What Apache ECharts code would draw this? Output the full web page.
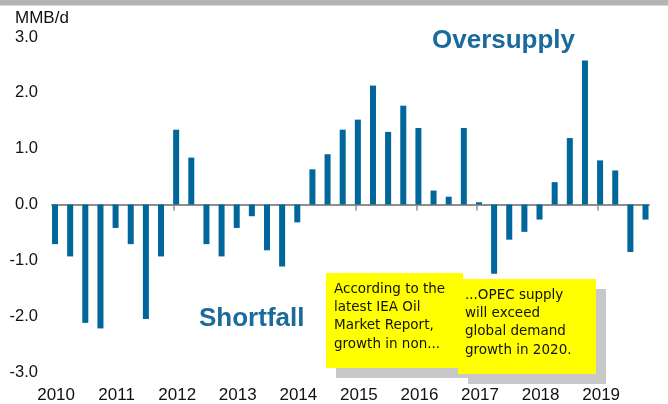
<!DOCTYPE html>
<html>
<head>
<meta charset="utf-8">
<script src="https://cdn.jsdelivr.net/npm/echarts@6/dist/echarts.min.js"></script>
<style>
html,body{margin:0;padding:0;background:#fff;}
#chart{width:668px;height:404px;}
</style>
</head>
<body>
<div id="chart"></div>
<script>
// Quarterly categories 2010Q1 .. 2019Q4
var years = ['2010','2011','2012','2013','2014','2015','2016','2017','2018','2019'];
var quarters = ['Q1','Q2','Q3','Q4'];
// Supply minus demand balance, MMB/d
var balance = [
  -0.71, -0.93, -2.12, -2.22,   // 2010
  -0.42, -0.71, -2.05, -0.93,   // 2011
   1.34,  0.84, -0.71, -0.93,   // 2012
  -0.42, -0.21, -0.82, -1.11,   // 2013
  -0.32,  0.63,  0.90,  1.34,   // 2014
   1.52,  2.13,  1.30,  1.77,   // 2015
   1.37,  0.25,  0.14,  1.37,   // 2016
   0.04, -1.24, -0.63, -0.49,   // 2017
  -0.27,  0.40,  1.19,  2.58,   // 2018
   0.79,  0.61, -0.85, -0.27    // 2019
];
var yTicks = [-3, -2, -1, 0, 1, 2, 3];
var unitLabel = 'MMB/d';
var note1 = ['According to the', 'latest IEA Oil', 'Market Report,', 'growth in non...'];
var note2 = ['...OPEC supply', 'will exceed', 'global demand', 'growth in 2020.'];

var barData = balance.map(function (v, i) { return [i, v]; });
var tickPos = years.map(function (y, i) { return i * quarters.length - 0.13; });
var labelPos = years.map(function (y, i) { return i * quarters.length + 0.07; });

var axisGray = '#8e8e8e';
var blue = '#00669b';
var textBlue = '#1a6a9c';
var sans = 'Liberation Sans, Arial, sans-serif';
var noteFont = '13.5px "Comic Sans MS", "DejaVu Sans", sans-serif';

var chart = echarts.init(document.getElementById('chart'), null, {renderer: 'canvas'});
chart.setOption({
  animation: false,
  backgroundColor: '#ffffff',
  grid: {left: 52, right: 19, top: 37, bottom: 32},
  xAxis: [{
    type: 'value',
    min: -0.2, max: 39.23,
    position: 'bottom',
    axisLine: {show: true, onZero: true, lineStyle: {color: axisGray, width: 2}},
    axisTick: {show: true, customValues: tickPos, length: 6, lineStyle: {color: axisGray, width: 1.5}},
    axisLabel: {show: false},
    splitLine: {show: false}
  }, {
    type: 'value',
    min: -0.2, max: 39.23,
    position: 'bottom',
    axisLine: {show: false, onZero: false},
    axisTick: {show: false},
    axisLabel: {
      show: true, customValues: labelPos, margin: 15,
      fontFamily: sans, fontSize: 17, color: '#111',
      formatter: function (v) { return years[Math.round((v - 0.07) / quarters.length)]; }
    },
    splitLine: {show: false}
  }],
  yAxis: {
    type: 'value',
    min: yTicks[0], max: yTicks[yTicks.length - 1], interval: 1,
    axisLine: {show: false},
    axisTick: {show: false},
    splitLine: {show: false},
    axisLabel: {
      margin: 14, fontFamily: sans, fontSize: 16.5, color: '#111',
      formatter: function (v) { return v.toFixed(1); }
    }
  },
  series: [{
    type: 'bar',
    xAxisIndex: 0,
    data: barData,
    barWidth: 6,
    itemStyle: {color: blue}
  }],
  graphic: [
    {type: 'rect', left: 0, top: 0, z: 10, shape: {width: 668, height: 5.5}, style: {fill: '#b4b4b4'}},
    {type: 'text', left: 15, top: 10, z: 10, style: {text: unitLabel, font: '17px ' + sans, fill: '#111'}},
    {type: 'text', left: 432, top: 28, z: 10, style: {text: 'Oversupply', font: 'bold 26px ' + sans, fill: textBlue}},
    {type: 'text', left: 199, top: 306, z: 10, style: {text: 'Shortfall', font: 'bold 26px ' + sans, fill: textBlue}},
    {type: 'rect', left: 336, top: 283, z: 10, shape: {width: 137, height: 95}, style: {fill: '#c8c8c8'}},
    {type: 'rect', left: 326, top: 273, z: 11, shape: {width: 137, height: 95}, style: {fill: '#ffff00'}},
    {type: 'text', left: 334, top: 280, z: 12, style: {text: note1.join('\n'), font: noteFont, lineHeight: 18.3, fill: '#111'}},
    {type: 'rect', left: 468, top: 289, z: 13, shape: {width: 138, height: 95}, style: {fill: '#c8c8c8'}},
    {type: 'rect', left: 458, top: 279, z: 14, shape: {width: 138, height: 95}, style: {fill: '#ffff00'}},
    {type: 'text', left: 465, top: 286, z: 15, style: {text: note2.join('\n'), font: noteFont, lineHeight: 18.3, fill: '#111'}}
  ]
});
</script>
</body>
</html>
